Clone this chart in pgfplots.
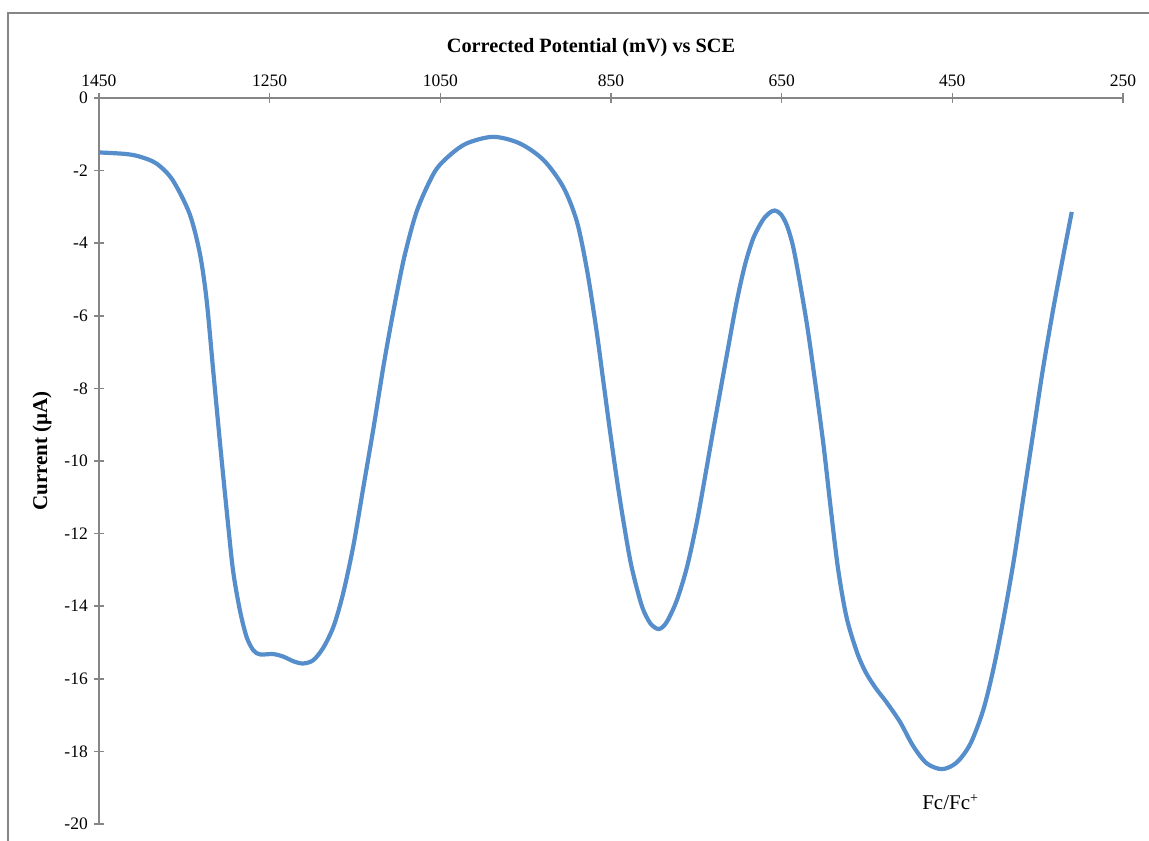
\documentclass[border=0pt]{standalone}
\usepackage{fontspec}
\setmainfont{Liberation Serif}
\usepackage{pgfplots}
\pgfplotsset{compat=1.18}
\definecolor{axisgray}{RGB}{134,134,134}
\definecolor{seriesblue}{RGB}{86,142,203}

\begin{document}
\begin{tikzpicture}
\useasboundingbox (0pt,0pt) rectangle (656.54pt,-480.55pt);
% chart area frame
\draw[axisgray, line width=0.9pt] (4.57pt,-480.55pt) -- (4.57pt,-7.43pt) -- (656.54pt,-7.43pt);
\begin{axis}[
  at={(56.57pt,-56.0pt)}, anchor=north west,
  scale only axis, width=585.1pt, height=414.8pt,
  x dir=reverse, xmin=250, xmax=1450, ymin=-20, ymax=0,
  axis x line*=top, axis y line*=left,
  axis line style={axisgray, line width=0.9pt, -},
  xtick={250,450,...,1450}, ytick={-20,-18,...,0},
  tick align=center, major tick length=5.7pt,
  tick style={axisgray, line width=0.9pt},
  /pgf/number format/assume math mode=true,
  /pgf/number format/1000 sep={},
  ticklabel style={font=\normalsize, text=black},
]
\addplot[seriesblue, line width=2.4pt, smooth, tension=0.5] coordinates {
(1450,-1.50) (1420,-1.54) (1403,-1.61) (1383,-1.80) (1364,-2.25)
(1344,-3.18) (1332,-4.26) (1324,-5.54) (1316,-7.55) (1308,-9.55)
(1300,-11.45) (1293,-13.00) (1285,-14.10) (1277,-14.85) (1269,-15.22)
(1261,-15.33) (1246,-15.32) (1234,-15.39) (1222,-15.52) (1211,-15.58)
(1199,-15.49) (1187,-15.14) (1175,-14.55) (1164,-13.66) (1152,-12.35)
(1140,-10.70) (1128,-9.05) (1116,-7.30) (1104,-5.75) (1092,-4.36)
(1077,-3.08) (1057,-2.05) (1040,-1.60) (1019,-1.25) (988,-1.07)
(957,-1.25) (929,-1.71) (906,-2.45) (890,-3.40) (878,-4.75)
(867,-6.40) (859,-7.80) (851,-9.20) (843,-10.52) (835,-11.72)
(826,-12.90) (814,-13.98) (804,-14.47) (794,-14.63) (785,-14.45)
(773,-13.85) (761,-12.93) (749,-11.64) (738,-10.20) (729,-9.00)
(714,-7.05) (703,-5.65) (693,-4.60) (683,-3.85) (672,-3.36)
(664,-3.16) (658,-3.10) (651,-3.20) (644,-3.50) (637,-4.05)
(630,-4.90) (620,-6.29) (611,-7.78) (601,-9.55) (593,-11.20)
(584,-12.95) (574,-14.30) (562,-15.25) (552,-15.80) (540,-16.25)
(527,-16.65) (511,-17.20) (496,-17.85) (480,-18.33) (462,-18.49)
(445,-18.31) (429,-17.80) (414,-16.88) (402,-15.75) (390,-14.35)
(378,-12.75) (367,-11.05) (355,-9.20) (344,-7.50) (332,-5.85)
(320,-4.35) (310,-3.14)
};
\node[font=\fontsize{12}{14}\selectfont] at (axis cs:452,-19.4) {Fc/Fc\textsuperscript{+}};
\end{axis}
\node[font=\fontsize{11.6}{14}\selectfont\bfseries] at (337.7pt,-27.2pt) {Corrected Potential (mV) vs SCE};
\node[font=\fontsize{12}{14}\selectfont\bfseries, rotate=90] at (24.0pt,-257.7pt) {Current (µA)};
\end{tikzpicture}
\end{document}
